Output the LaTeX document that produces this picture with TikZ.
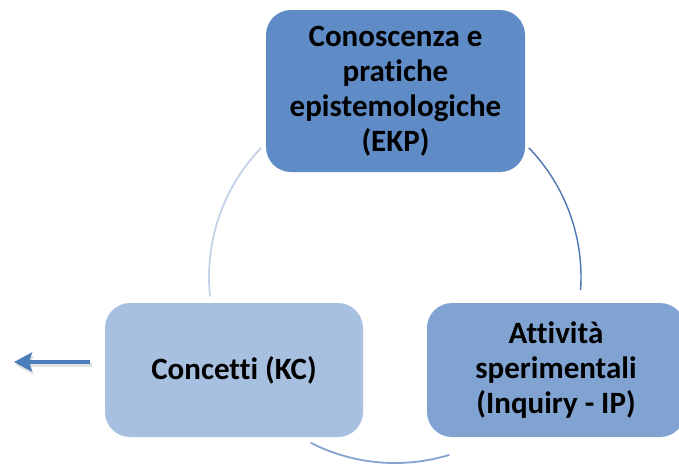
\documentclass[tikz,border=0pt]{standalone}
\usepackage{fontspec}
\setmainfont{Carlito}[Ligatures=NoCommon]
\usepackage{xcolor}
\usetikzlibrary{arrows.meta}
\definecolor{topblue}{HTML}{5F8BC6}
\definecolor{leftblue}{HTML}{A8C0DF}
\definecolor{rightblue}{HTML}{80A3D1}
\definecolor{arclight}{HTML}{C4D2E8}
\definecolor{arcdark}{HTML}{4C76B2}
\definecolor{arcmid}{HTML}{86A3D0}
\definecolor{arrowblue}{HTML}{4A7EBB}

\begin{document}
\begin{tikzpicture}[x=1pt,y=1pt,
  cyclebox/.style={rounded corners=25pt, align=center, inner sep=0pt,
    font=\fontsize{31}{35}\selectfont\bfseries, text=black},
  cyclearc/.style={line width=1.8pt}]
\useasboundingbox (0,0) rectangle (679,-464);
\clip (0,0) rectangle (679,-464);
% circle through the three boxes
\coordinate (ctr) at (395,-277);
\draw[cyclearc, arclight] (ctr) ++(136:186) arc[start angle=136, end angle=186, radius=186];
\draw[cyclearc, arcdark, line width=1.4pt] (ctr) ++(44:186) arc[start angle=44, end angle=-4, radius=186];
\draw[cyclearc, arcmid] (ctr) ++(243:186) arc[start angle=243, end angle=287, radius=186];
% boxes
\node[cyclebox, fill=topblue, minimum width=259pt, minimum height=162pt] (ekp) at (395.5,-91)
  {Conoscenza e\\pratiche\\epistemologiche\\(EKP)};
\node[cyclebox, fill=leftblue, minimum width=258pt, minimum height=134pt] (kc) at (234,-370)
  {Concetti (KC)};
\node[cyclebox, fill=rightblue, minimum width=258pt, minimum height=134pt] (ip) at (556,-370)
  {Attività\\sperimentali\\(Inquiry - IP)};
% arrow on the left
\coordinate (arrS) at (90,-362);
\coordinate (arrE) at (14,-362);
\draw[line width=4pt, black, opacity=0.12, -{Stealth[length=18pt, width=19pt, inset=3pt]}]
  ([shift={(1.5,-3)}]arrS) -- ([shift={(1.5,-3)}]arrE);
\draw[line width=4pt, arrowblue, -{Stealth[length=18pt, width=19pt, inset=3pt]}] (arrS) -- (arrE);
\end{tikzpicture}
\end{document}
